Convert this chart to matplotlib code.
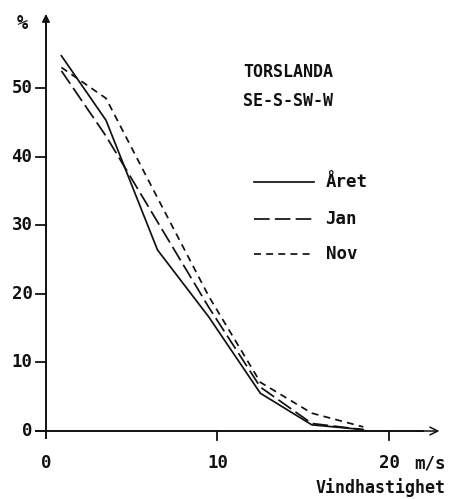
import matplotlib
matplotlib.use("Agg")
import matplotlib.pyplot as plt

# wind speed class midpoints (m/s) and exceedance (%)
speed = [0.9, 3.5, 6.5, 9.5, 12.5, 15.5, 18.5]
aret = [54.7, 45.3, 26.4, 16.6, 5.5, 0.9, 0.2]
jan = [52.5, 43.0, 30.5, 18.0, 6.4, 1.1, 0.2]
nov = [53.0, 48.5, 34.0, 19.6, 7.1, 2.6, 0.6]

xticks = [0, 10, 20]
yticks = [0, 10, 20, 30, 40, 50]
labels = ["Året", "Jan", "Nov"]

plt.rcParams["font.family"] = "DejaVu Sans Mono"

fig = plt.figure(figsize=(4.53, 4.99), dpi=100)
ax = fig.add_axes([0, 0, 1, 1])
ax.set_xlim(-2.68, 23.73)
ax.set_ylim(-9.91, 62.83)
ax.axis("off")

ink = "#111111"
lw = 1.25
dash_styles = [None, (9, 3), (4, 3)]

# axes with arrows
ax.plot([0, 0], [-1.0, 59.5], color=ink, lw=1.4)
ax.annotate("", xy=(0, 61.2), xytext=(0, 58.5),
            arrowprops=dict(arrowstyle="-|>", color=ink, lw=1.0, mutation_scale=12))
ax.plot([-0.6, 22.0], [0, 0], color=ink, lw=1.4)
ax.annotate("", xy=(23.1, 0), xytext=(21.5, 0),
            arrowprops=dict(arrowstyle="->", color=ink, lw=1.1, mutation_scale=14))

for t in yticks:
    ax.plot([-0.6, 0], [t, t], color=ink, lw=1.3)
    ax.text(-0.78, t, str(t), ha="right", va="center", fontsize=12.5,
            fontweight="bold", color=ink)
for t in xticks[1:]:
    ax.plot([t, t], [0, -1.3], color=ink, lw=1.3)
for t in xticks:
    ax.text(t, -4.7, str(t), ha="center", va="center", fontsize=12.5,
            fontweight="bold", color=ink)

ax.text(22.4, -4.7, "m/s", ha="center", va="center", fontsize=12.5,
        fontweight="bold", color=ink)
ax.text(23.3, -8.3, "Vindhastighet", ha="right", va="center", fontsize=12,
        fontweight="bold", color=ink)
ax.text(-1.4, 59.4, "%", ha="center", va="center", fontsize=13.5,
        fontweight="bold", color=ink)

ax.text(11.5, 52.3, "TORSLANDA", ha="left", va="center", fontsize=12,
        fontweight="bold", color=ink)
ax.text(11.5, 48.1, "SE-S-SW-W", ha="left", va="center", fontsize=12,
        fontweight="bold", color=ink)

# curves + hand-drawn legend
leg_y = [36.3, 30.9, 25.8]
for vals, lab, ly, ds in zip([aret, jan, nov], labels, leg_y, dash_styles):
    line, = ax.plot(speed, vals, color=ink, lw=lw)
    seg, = ax.plot([12.1, 15.6], [ly, ly], color=ink, lw=lw)
    if ds:
        line.set_dashes(ds)
        seg.set_dashes(ds)
    ax.text(16.3, ly, lab, ha="left", va="center", fontsize=12.5,
            fontweight="bold", color=ink)

fig.savefig("out.png", dpi=100, facecolor="white")
